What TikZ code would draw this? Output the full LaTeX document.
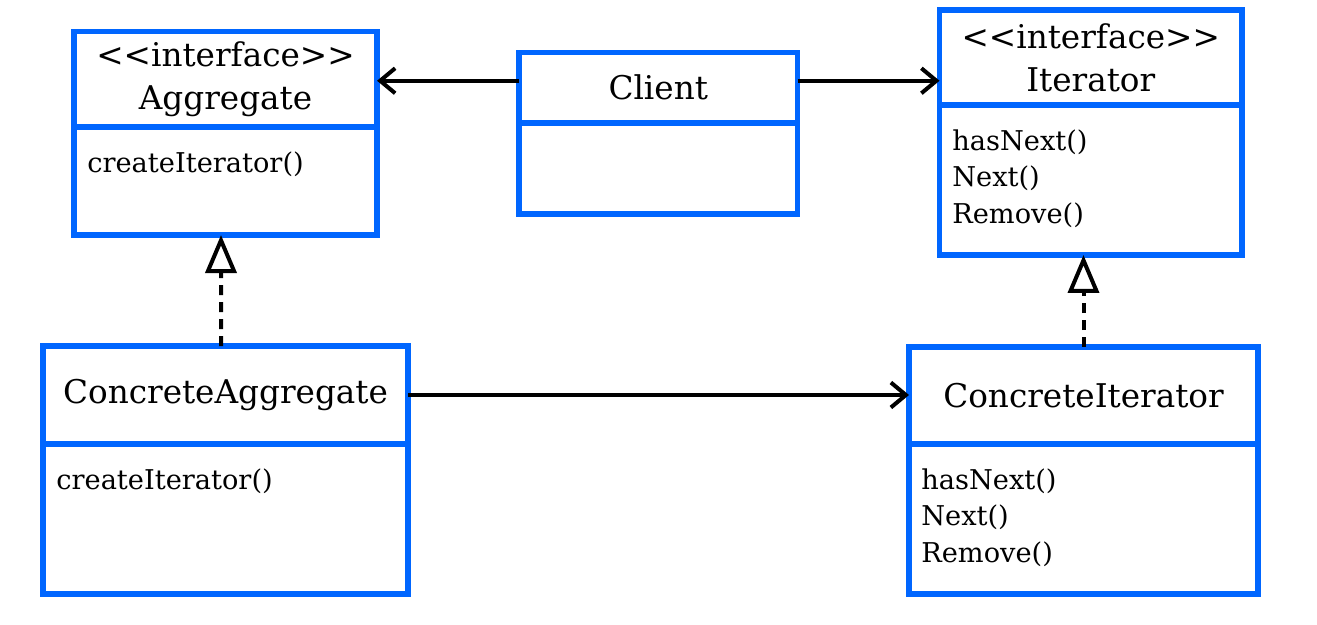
\documentclass[tikz,border=0pt]{standalone}
\usepackage{fontspec}
\setmainfont{DejaVu Serif}
\usepackage{tikz}
\usetikzlibrary{positioning, arrows.meta, calc}

\definecolor{umlblue}{RGB}{0,102,255}
\newcommand{\stereo}[1]{<\kern0pt<#1>\kern0pt>}

\tikzset{
  classpart/.style={draw=umlblue, line width=0.11cm, inner sep=0pt, outer sep=0pt, fill=white},
  classtitle/.style={classpart, anchor=north west, align=center, font=\fontsize{18.6}{24.5}\selectfont},
  classbody/.style={classpart, anchor=north},
  ops/.style={anchor=north west, inner sep=0pt, align=left, font=\fontsize{15.5}{20.7}\selectfont},
  assoc/.style={-{Straight Barb[length=0.3cm, width=0.5cm]}, line width=0.08cm},
  realize/.style={-{Triangle[open, length=0.76cm, width=0.62cm]}, line width=0.08cm, dash pattern=on 0.2cm off 0.14cm},
}

\begin{document}
\begin{tikzpicture}[y=-1cm]
  \useasboundingbox (0,0) rectangle (26.34,12.50);

  % class boxes: name/x/y/width/title height/body height/title
  \foreach \cls/\x/\y/\w/\th/\bh/\txt in {
      agg/1.48/0.63/6.06/1.91/2.16/{\stereo{interface}\\Aggregate},
      client/10.38/1.05/5.57/1.41/1.82/{Client},
      iter/18.79/0.20/6.05/1.90/3.00/{\stereo{interface}\\Iterator},
      cagg/0.86/6.92/7.30/1.96/3.00/{ConcreteAggregate},
      citer/18.18/6.94/6.98/1.94/3.00/{ConcreteIterator}}{
    \node[classtitle, minimum width=\w cm, minimum height=\th cm] (\cls) at (\x,\y) {\txt};
    \node[classbody, minimum width=\w cm, minimum height=\bh cm] (\cls-body) at (\cls.south) {};
  }

  \node[ops] (agg-ops) at ([xshift=0.26cm, yshift=-0.49cm]agg-body.north west) {createIterator()};
  \node[ops] (iter-ops) at ([xshift=0.25cm, yshift=-0.49cm]iter-body.north west) {hasNext()\\Next()\\Remove()};
  \node[ops] (cagg-ops) at ([xshift=0.26cm, yshift=-0.49cm]cagg-body.north west) {createIterator()};
  \node[ops] (citer-ops) at ([xshift=0.24cm, yshift=-0.49cm]citer-body.north west) {hasNext()\\Next()\\Remove()};

  \coordinate (client-l) at ([yshift=0.14cm]client.west);
  \coordinate (client-r) at ([yshift=0.14cm]client.east);

  \draw[assoc] (client-l) -- (client-l -| agg.east);
  \draw[assoc] (client-r) -- (client-r -| iter.west);
  \draw[assoc] (cagg.east) -- (cagg.east -| citer.west);
  \draw[realize] ([xshift=-0.09cm]cagg.north) -- ([xshift=-0.09cm]agg-body.south);
  \draw[realize] (citer.north) -- (citer.north |- iter-body.south);
\end{tikzpicture}
\end{document}
